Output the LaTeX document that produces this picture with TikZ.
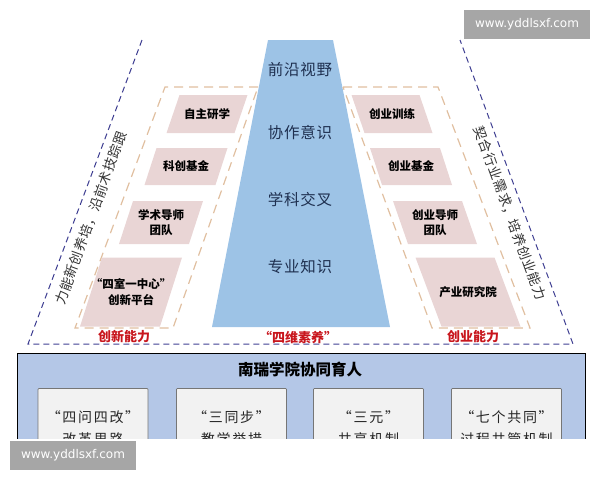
\documentclass[tikz,border=0pt]{standalone}
\usepackage{fontspec}
\setmainfont{Noto Sans CJK SC}
\newfontfamily\wmfont{DejaVu Sans}
\newfontfamily\spacedfont[LetterSpace=12]{Noto Sans CJK SC}
\newfontfamily\slightfont[LetterSpace=5]{Noto Sans CJK SC}
\definecolor{trapblue}{HTML}{9DC3E6}
\definecolor{trapink}{HTML}{1F3050}
\definecolor{navydash}{HTML}{3F3F92}
\definecolor{tandash}{HTML}{E0BFA0}
\definecolor{pinkfill}{HTML}{E9D5D5}
\definecolor{redtxt}{HTML}{C8161D}
\definecolor{basefill}{HTML}{B4C7E7}
\definecolor{baseline}{HTML}{8FAADC}
\definecolor{boxfill}{HTML}{F2F2F2}
\definecolor{boxline}{HTML}{767676}
\definecolor{wmgray}{HTML}{A6A6A6}
\tikzset{
  navyline/.style={draw=navydash,line width=1pt,dash pattern=on 6pt off 4pt},
  tanline/.style={draw=tandash,line width=1.2pt,dash pattern=on 9pt off 6pt},
  traptext/.style={text=trapink,font=\slightfont\fontsize{15.5}{18}\selectfont,inner sep=0pt},
  pinktext/.style={text=black,font=\fontsize{11.5}{15.5}\selectfont\bfseries,align=center,inner sep=0pt},
  redlabel/.style={text=redtxt,font=\fontsize{13}{15}\selectfont\bfseries,inner sep=0pt},
  sidetext/.style={text=black!80,font=\slightfont\fontsize{13.5}{16}\selectfont,inner sep=0pt},
  basebox/.style={draw=boxline,fill=boxfill,line width=0.8pt,rounded corners=1pt,minimum width=110pt,minimum height=110pt,anchor=north,inner sep=0pt},
  boxtext/.style={text=black!85,font=\spacedfont\fontsize{14}{22}\selectfont,align=center,inner sep=0pt},
  wmbox/.style={fill=wmgray,text=white,font=\wmfont\fontsize{12}{14}\selectfont,minimum width=126pt,minimum height=29pt,inner sep=0pt}
}
\newcommand\mypbox[7]{%
  \fill[pinkfill] ({#2-#4/2+#6/2},{#3-#5/2}) -- ({#2+#4/2+#6/2},{#3-#5/2}) -- ({#2+#4/2-#6/2},{#3+#5/2}) -- ({#2-#4/2-#6/2},{#3+#5/2}) -- cycle;
  \node[pinktext] (#1) at (#2,#3) {#7};
}
\begin{document}
\begin{tikzpicture}[x=1pt,y=-1pt]
\useasboundingbox (0,0) rectangle (600,480);
\begin{scope}
\clip (0,0) rectangle (600,438);
% outer navy dashed frame
\draw[navyline] (142,40) -- (28,344) -- (573,344) -- (460,40);
% central trapezoid
\fill[trapblue] (268,40) -- (333,40) -- (390,327) -- (212,327) -- cycle;
\node[traptext] (t1) at (300,70) {前沿视野};
\node[traptext] (t2) at (300,133) {协作意识};
\node[traptext] (t3) at (300,200) {学科交叉};
\node[traptext] (t4) at (300,267) {专业知识};
% tan dashed boxes
\draw[tanline] (258,87) -- (165,87) -- (75,328) -- (173,328) -- cycle;
\draw[tanline] (343,87) -- (438,87) -- (530,328) -- (432,328) -- cycle;
% pink boxes left
\mypbox{l1}{207}{114}{68}{38}{13}{自主研学}
\mypbox{l2}{186}{166.5}{71}{37}{12}{科创基金}
\mypbox{l3}{161}{222.5}{70}{43}{14}{学术导师\\团队}
\mypbox{l4}{131}{292}{80}{69}{22}{“四室一中心”\\创新平台}
% pink boxes right
\mypbox{r1}{392}{114}{68}{38}{-13}{创业训练}
\mypbox{r2}{411}{166.5}{70}{37}{-12}{创业基金}
\mypbox{r3}{435}{222.5}{69}{43}{-15}{创业导师\\团队}
\mypbox{r4}{468}{292}{79}{69}{-26}{产业研究院}
% red labels
\node[redlabel] (lab1) at (124,337) {创新能力};
\node[redlabel] (lab2) at (298,338) {“四维素养”};
\node[redlabel] (lab3) at (473,337) {创业能力};
% side texts
\node[sidetext,rotate=70] (side1) at (91,218) {力能新创养培，沿前术技踪跟};
\node[sidetext,rotate=-70] (side2) at (510,213) {契合行业需求，培养创业能力};
% base section
\fill[basefill] (17,353) rectangle (585,470);
\draw[baseline,line width=0.6pt] (17,470) -- (17,353) -- (585,353) -- (585,470);
\node[text=black,font=\fontsize{15.5}{18}\selectfont\bfseries,inner sep=0pt] (title) at (300,370) {南瑞学院协同育人};
\node[basebox] (b1) at (93,388) {};
\node[basebox] (b2) at (231.5,388) {};
\node[basebox] (b3) at (368.5,388) {};
\node[basebox] (b4) at (506.5,388) {};
\node[boxtext,anchor=north] (bt1) at ([yshift=-22pt]b1.north) {“四问四改”\\改革思路};
\node[boxtext,anchor=north] (bt2) at ([yshift=-22pt]b2.north) {“三同步”\\教学举措};
\node[boxtext,anchor=north] (bt3) at ([yshift=-22pt]b3.north) {“三元”\\共享机制};
\node[boxtext,anchor=north] (bt4) at ([yshift=-22pt]b4.north) {“七个共同”\\过程共管机制};
\end{scope}
% watermarks
\node[wmbox] (wm1) at (527,24.5) {www.yddlsxf.com};
\node[wmbox] (wm2) at (73,455) {www.yddlsxf.com};
\end{tikzpicture}
\end{document}
